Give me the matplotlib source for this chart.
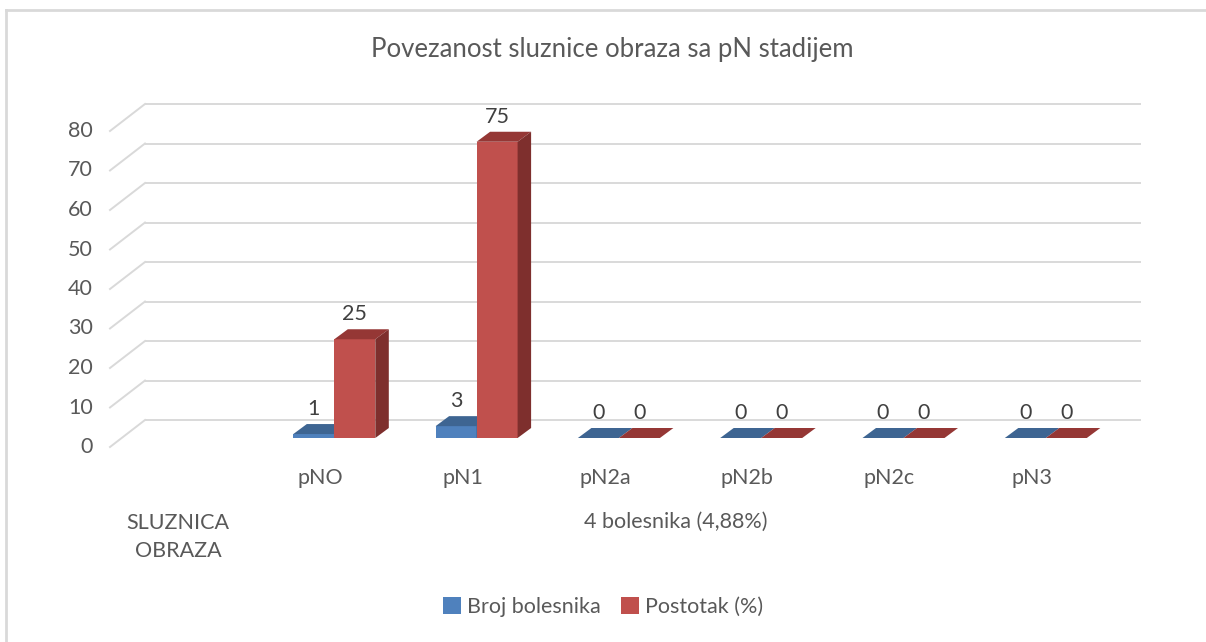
import matplotlib
matplotlib.use("Agg")
import matplotlib.pyplot as plt
from matplotlib.patches import Polygon
from matplotlib.lines import Line2D
from matplotlib.patches import Patch
import numpy as np

plt.rcParams["font.family"] = ["Lato", "DejaVu Sans"]

# ---- data ----
categories = ["", "pNO", "pN1", "pN2a", "pN2b", "pN2c", "pN3"]
broj = [None, 1, 3, 0, 0, 0, 0]          # Broj bolesnika
postotak = [None, 25, 75, 0, 0, 0, 0]    # Postotak (%)
series_names = ["Broj bolesnika", "Postotak (%)"]
y_ticks = [0, 10, 20, 30, 40, 50, 60, 70, 80]
group_labels = ["SLUZNICA\nOBRAZA", "4 bolesnika (4,88%)"]
title = "Povezanost sluznice obraza sa pN stadijem"

# ---- styling ----
W, H = 1206, 642
txt = "#595959"
front = ["#4F81BD", "#C0504D"]
top = ["#3E6592", "#953735"]
side = ["#385D8A", "#7E2F2D"]
grid = "#D9D9D9"

fig = plt.figure(figsize=(W / 100, H / 100), dpi=100)

# axes placed in pixel space; data: x = category index, y = value
px_l, px_r, px_t, px_b = 100, 1150, 90, 450
cx0, cstep = 192, 142.3      # px of category 0 centre, px per category
y0, ystep = 438, 3.95        # px of value 0 (bar base), px per unit
ax = fig.add_axes([px_l / W, 1 - px_b / H, (px_r - px_l) / W, (px_b - px_t) / H])
ax.set_xlim((px_l - cx0) / cstep, (px_r - cx0) / cstep)
ax.set_ylim((y0 - px_b) / ystep, (y0 - px_t) / ystep)
ax.axis("off")


def dx(p):
    return p / cstep


def dy(p):
    return p / ystep


# back wall gridlines + floor diagonals
wall_dy = dy(18)
for v in y_ticks:
    ax.plot([dx(145 - cx0), dx(1141 - cx0)], [v + wall_dy, v + wall_dy],
            color=grid, lw=1.4, zorder=1, solid_capstyle="butt")
    ax.plot([dx(110 - cx0), dx(145 - cx0)], [v - dy(9), v + wall_dy],
            color=grid, lw=1.4, zorder=1)
    ax.text(dx(93 - cx0), v - dy(9), str(v), ha="right", va="center",
            fontsize=15.5, color=txt)

# bars with faux 3D faces
bw = dx(41)
ddx, ddy = dx(13.5), dy(10)
for s, vals in enumerate([broj, postotak]):
    for i, v in enumerate(vals):
        if v is None:
            continue
        xl = i - bw + s * bw
        xr = xl + bw
        z = 3 + s
        ax.bar(xl, v, width=bw, align="edge", color=front[s], zorder=z,
               linewidth=0)
        ax.add_patch(Polygon([(xl, v), (xr, v), (xr + ddx, v + ddy),
                              (xl + ddx, v + ddy)],
                             closed=True, facecolor=top[s], lw=0, zorder=z))
        ax.add_patch(Polygon([(xr, 0), (xr + ddx, ddy), (xr + ddx, v + ddy),
                              (xr, v)],
                             closed=True, facecolor=side[s], lw=0, zorder=z))
        ax.text(xl + bw / 2, v + ddy + dy(15), str(v), ha="center",
                va="center", fontsize=15.5, color="#404040", zorder=6)

# category labels
lab_off = dx(-14)
for i, c in enumerate(categories):
    ax.text(i + lab_off, dy(438 - 478), c, ha="center", va="center",
            fontsize=15.5, color=txt, clip_on=False)
ax.text(0 + lab_off, dy(438 - 537), group_labels[0], ha="center",
        va="center", fontsize=15.5, color=txt, linespacing=1.5, clip_on=False)
ax.text(np.mean(range(1, len(categories))) + lab_off, dy(438 - 522),
        group_labels[1], ha="center", va="center", fontsize=15.5, color=txt,
        clip_on=False)

# title
fig.text(612 / W, 1 - 50 / H, title, ha="center", va="center",
         fontsize=18.5, color=txt)

# legend
handles = [Patch(facecolor=front[k], edgecolor="none") for k in range(2)]
leg = fig.legend(handles, series_names, loc="center",
                 bbox_to_anchor=(603 / W, 1 - 607 / H), ncol=2,
                 frameon=False, fontsize=15.5, handlelength=0.85,
                 handleheight=0.85, handletextpad=0.3, columnspacing=0.9)
for t in leg.get_texts():
    t.set_color(txt)

# outer chart border (only top and left visible)
fig.add_artist(Line2D([6 / W, 6 / W], [0, 1 - 10 / H], color=grid, lw=2,
                      transform=fig.transFigure))
fig.add_artist(Line2D([6 / W, 1], [1 - 10 / H, 1 - 10 / H], color=grid,
                      lw=2, transform=fig.transFigure))

fig.savefig("out.png", dpi=100)
